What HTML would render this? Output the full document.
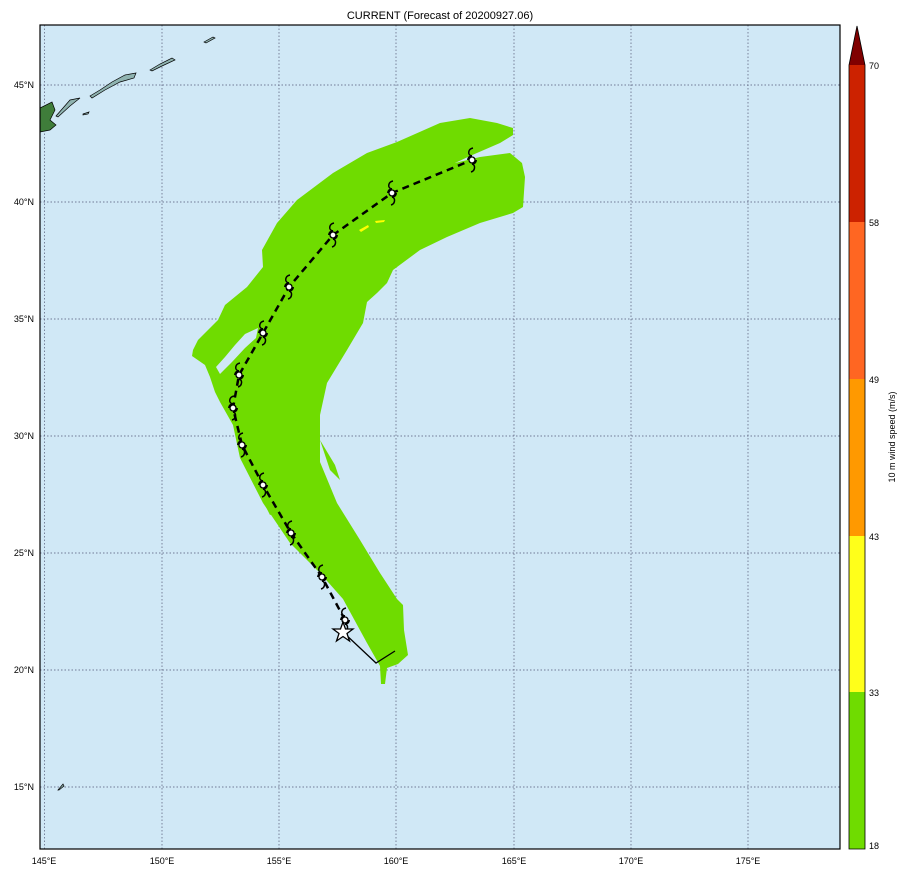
<!DOCTYPE html>
<html><head><meta charset="utf-8"><style>
html,body{margin:0;padding:0;background:#fff;}
svg{display:block;font-family:"Liberation Sans",sans-serif;}
</style></head><body>
<svg width="908" height="876" viewBox="0 0 908 876" xmlns="http://www.w3.org/2000/svg">
<defs>
<clipPath id="c"><rect x="40" y="25" width="800" height="824"/></clipPath>
<g id="ty"><path d="M0,-4 C-5,-5 -4,-11 1,-12" fill="none" stroke="#000" stroke-width="1.5"/><path d="M0,4 C4,5 3,11 -1,12" fill="none" stroke="#000" stroke-width="1.5"/><path d="M-4,0 a4,4 0 0 1 4,-4 M4,0 a4,4 0 0 1 -4,4" fill="none" stroke="#000" stroke-width="2"/><circle r="3" fill="#fff" stroke="#000" stroke-width="1.3"/></g>
</defs>
<text x="440" y="19" font-size="11" text-anchor="middle">CURRENT (Forecast of 20200927.06)</text>
<rect x="40" y="25" width="800" height="824" fill="#d0e8f6"/>
<g clip-path="url(#c)">
<g stroke="#335" stroke-width="0.7" stroke-dasharray="1.5,2" opacity="0.8">
<line x1="44.5" y1="25" x2="44.5" y2="849"/><line x1="162" y1="25" x2="162" y2="849"/><line x1="279" y1="25" x2="279" y2="849"/><line x1="396" y1="25" x2="396" y2="849"/><line x1="514" y1="25" x2="514" y2="849"/><line x1="631" y1="25" x2="631" y2="849"/><line x1="748" y1="25" x2="748" y2="849"/>
<line x1="40" y1="85" x2="840" y2="85"/><line x1="40" y1="202" x2="840" y2="202"/><line x1="40" y1="319" x2="840" y2="319"/><line x1="40" y1="436" x2="840" y2="436"/><line x1="40" y1="553" x2="840" y2="553"/><line x1="40" y1="670" x2="840" y2="670"/><line x1="40" y1="787" x2="840" y2="787"/>
</g>
<g fill="#8fb3b0" stroke="#000" stroke-width="0.7">
<path d="M40,108 L52,102 L55,110 L50,120 L56,125 L50,130 L40,132 Z" fill="#3f7d3a"/>
<path d="M56,116 L70,100 L80,98 L70,106 L58,117 Z"/>
<path d="M90,96 L100,90 L112,82 L125,75 L136,73 L134,78 L120,82 L105,90 L92,98 Z"/>
<path d="M150,70 L160,64 L172,58 L175,60 L162,66 L152,71 Z"/>
<path d="M204,42 L213,37 L215,38 L206,43 Z"/>
<path d="M83,114 L89,112 L88,114 L83,115 Z"/>
<path d="M58,790 L63,784 L64,786 L59,790 Z"/>
</g>
<path fill="#6fdc00" d="M497,123 L513,128 L513,135 L500,143 L470,156 L455,163 L480,157 L510,153 L522,163 L525,177 L523,207 L513,213 L480,223 L447,237 L420,250 L393,270 L387,283 L377,293 L367,302 L363,323 L347,350 L327,383 L320,415 L320,462 L337,503 L360,540 L380,573 L397,599 L403,605 L404,630 L408,655 L398,664 L387,668 L385,684 L381,684 L380,666 L367,643 L343,599 L320,573 L290,543 L263,503 L240,458 L233,425 L220,402 L215,392 L210,377 L205,365 L192,356 L193,350 L198,340 L218,320 L225,305 L247,287 L263,267 L262,250 L277,223 L297,200 L333,173 L367,153 L397,142 L440,123 L470,118 Z"/>
<path fill="#d0e8f6" d="M258,328 L245,334 L235,345 L225,357 L216,367 L220,374 L232,362 L245,348 L256,338 Z"/>
<path fill="#6fdc00" d="M320,440 L330,470 L340,480 L335,465 Z M265,505 L278,512 L270,515 Z"/>
<path fill="#ffff00" d="M359,230 L368,225 L369,227 L361,232 Z M375,221 L385,220 L384,222 L376,223 Z"/>
<path d="M345,620 L322,577 L291,533 L263,485 L242,445 L233,408 L239,375 L263,333 L289,287 L333,235 L392,193 L472,160" fill="none" stroke="#000" stroke-width="2.5" stroke-dasharray="7,5"/>
<path d="M343,632 L376,663 L395,651" fill="none" stroke="#000" stroke-width="1.3"/>
<use href="#ty" x="345" y="620"/><use href="#ty" x="322" y="577"/><use href="#ty" x="291" y="533"/><use href="#ty" x="263" y="485"/><use href="#ty" x="242" y="445"/><use href="#ty" x="233" y="408"/><use href="#ty" x="239" y="375"/><use href="#ty" x="263" y="333"/><use href="#ty" x="289" y="287"/><use href="#ty" x="333" y="235"/><use href="#ty" x="392" y="193"/><use href="#ty" x="472" y="160"/>
<path d="M343,622 L345.5,629 L353,629 L347,633.5 L349.5,641 L343,636.5 L336.5,641 L339,633.5 L333,629 L340.5,629 Z" fill="#fff" stroke="#000" stroke-width="1.3"/>
</g>
<rect x="40" y="25" width="800" height="824" fill="none" stroke="#000" stroke-width="1.2"/>
<g font-size="9" text-anchor="middle">
<text x="44" y="864">145°E</text><text x="162" y="864">150°E</text><text x="279" y="864">155°E</text><text x="396" y="864">160°E</text><text x="514" y="864">165°E</text><text x="631" y="864">170°E</text><text x="748" y="864">175°E</text>
</g>
<g font-size="9" text-anchor="end">
<text x="34" y="88">45°N</text><text x="34" y="205">40°N</text><text x="34" y="322">35°N</text><text x="34" y="439">30°N</text><text x="34" y="556">25°N</text><text x="34" y="673">20°N</text><text x="34" y="790">15°N</text>
</g>
<g stroke="none">
<rect x="849" y="692" width="16" height="157" fill="#6fdc00"/>
<rect x="849" y="536" width="16" height="156" fill="#ffff1a"/>
<rect x="849" y="379" width="16" height="157" fill="#ff9900"/>
<rect x="849" y="222" width="16" height="157" fill="#ff6622"/>
<rect x="849" y="65" width="16" height="157" fill="#cc2200"/>
<path d="M849,65 L857,26 L865,65 Z" fill="#800000"/>
</g>
<path d="M849,849 L849,65 L857,26 L865,65 L865,849 Z" fill="none" stroke="#000" stroke-width="0.8"/>
<g font-size="9">
<text x="869" y="849">18</text><text x="869" y="696">33</text><text x="869" y="540">43</text><text x="869" y="383">49</text><text x="869" y="226">58</text><text x="869" y="69">70</text>
</g>
<text transform="translate(895,437) rotate(-90)" font-size="9" text-anchor="middle">10 m wind speed (m/s)</text>
</svg>
</body></html>
